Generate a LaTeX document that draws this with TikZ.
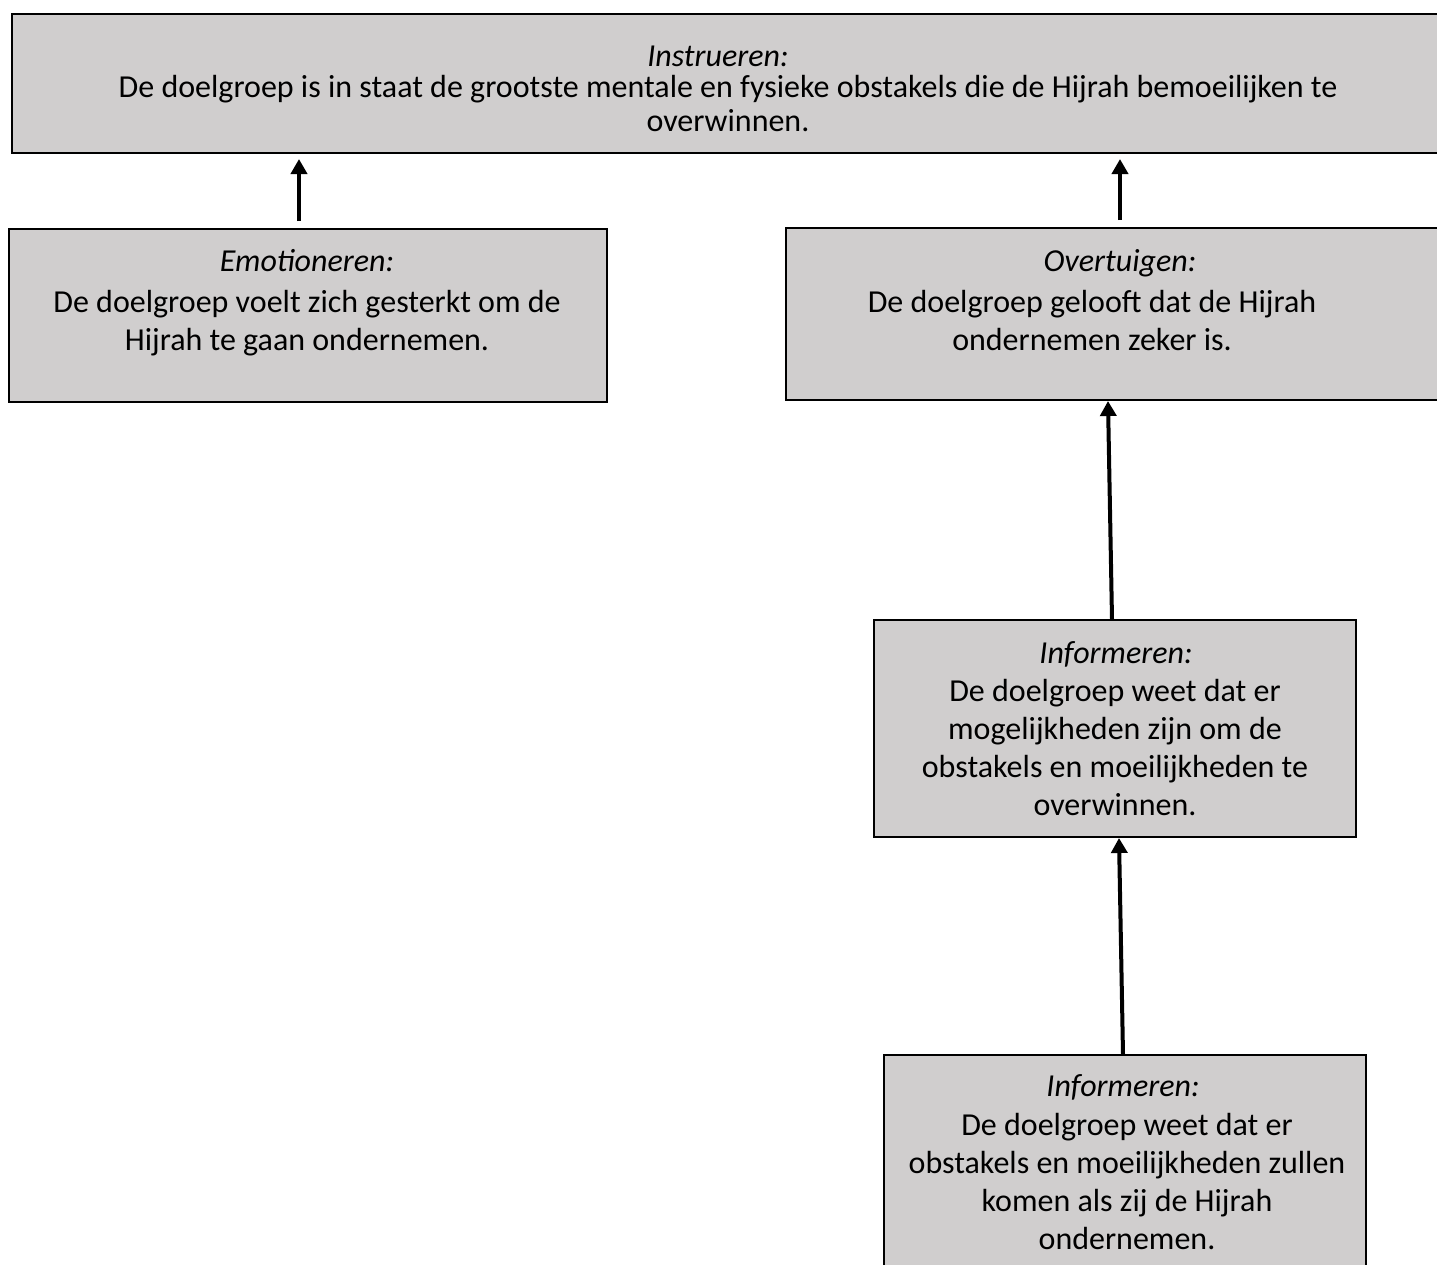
\documentclass[tikz,border=0pt]{standalone}
\usepackage{fontspec}
\setmainfont{Carlito}
\usetikzlibrary{arrows.meta}
\definecolor{boxgray}{RGB}{208,206,206}
\tikzset{
  box/.style={draw=black, line width=1pt, fill=boxgray, inner sep=0pt},
  txt/.style={inner sep=0pt, align=center, anchor=base, font=\fontsize{16pt}{19pt}\selectfont},
  ttl/.style={txt, font=\fontsize{16pt}{19pt}\selectfont\itshape},
  arr/.style={line width=2pt, -{Triangle[width=8pt,length=7.5pt]}, shorten <=3.5pt, shorten >=2.5pt},
  arrt/.style={line width=2pt, -{Triangle[width=8pt,length=7.5pt]}}
}
\begin{document}
\begin{tikzpicture}[x=0.5pt,y=-0.5pt]
\useasboundingbox (0,0) rectangle (1437,1265);
\clip (0,0) rectangle (1437,1265);
% boxes
\node[box, minimum width=716pt, minimum height=69.5pt] (top) at (728,83.5) {};
\node[box, minimum width=299pt, minimum height=86.5pt] (emo) at (308,315.5) {};
\node[box, minimum width=332pt, minimum height=86pt] (ovt) at (1118,314) {};
\node[box, minimum width=241pt, minimum height=108.5pt] (inf1) at (1115,728.5) {};
\node[box, minimum width=241pt, minimum height=117.5pt] (inf2) at (1125,1172.5) {};
% texts (multi-line nodes: base anchor = baseline of last line)
\node[ttl] (topt) at (718,66) {Instrueren:};
\node[txt, font=\fontsize{16pt}{17pt}\selectfont] (topb) at (728,131) {De doelgroep is in staat de grootste mentale en fysieke obstakels die de Hijrah bemoeilijken te\\overwinnen.};
\node[ttl] (emot) at (307,271) {Emotioneren:};
\node[txt] (emob) at (307,350) {De doelgroep voelt zich gesterkt om de\\Hijrah te gaan ondernemen.};
\node[ttl] (ovtt) at (1120,271) {Overtuigen:};
\node[txt] (ovtb) at (1092,350) {De doelgroep gelooft dat de Hijrah\\ondernemen zeker is.};
\node[ttl] (inf1t) at (1116,663) {Informeren:};
\node[txt] (inf1b) at (1115,815) {De doelgroep weet dat er\\mogelijkheden zijn om de\\obstakels en moeilijkheden te\\overwinnen.};
\node[ttl] (inf2t) at (1123,1096) {Informeren:};
\node[txt] (inf2b) at (1127,1249) {De doelgroep weet dat er\\obstakels en moeilijkheden zullen\\komen als zij de Hijrah\\ondernemen.};
% arrows
\draw[arr] (emo.north -| 299,0) -- (top.south -| 299,0);
\draw[arr] (ovt.north -| 1120,0) -- (top.south -| 1120,0);
\draw[arrt] (inf1.north -| 1112,0) -- (ovt.south -| 1108,0);
\draw[arrt] (inf2.north -| 1123,0) -- (inf1.south -| 1119,0);
\end{tikzpicture}
\end{document}
